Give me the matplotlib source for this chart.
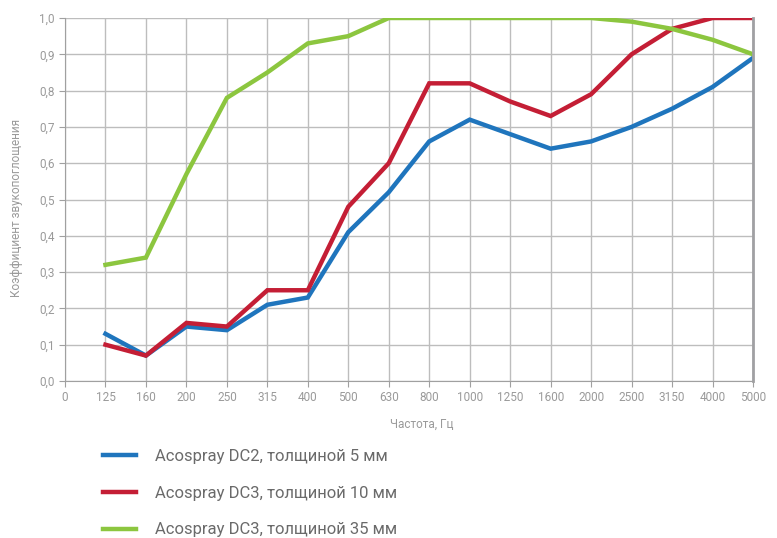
import numpy as np
import matplotlib.pyplot as plt

plt.rcParams['font.family'] = ['Roboto', 'DejaVu Sans']

freqs = ['0', '125', '160', '200', '250', '315', '400', '500', '630', '800',
         '1000', '1250', '1600', '2000', '2500', '3150', '4000', '5000']
dc2_5 = [0.13, 0.07, 0.15, 0.14, 0.21, 0.23, 0.41, 0.52, 0.66, 0.72,
         0.68, 0.64, 0.66, 0.70, 0.75, 0.81, 0.89]
dc3_10 = [0.10, 0.07, 0.16, 0.15, 0.25, 0.25, 0.48, 0.60, 0.82, 0.82,
          0.77, 0.73, 0.79, 0.90, 0.97, 1.00, 1.00]
dc3_35 = [0.32, 0.34, 0.57, 0.78, 0.85, 0.93, 0.95, 1.00, 1.00, 1.00,
          1.00, 1.00, 1.00, 0.99, 0.97, 0.94, 0.90]
labels = ['Acospray DC2, толщиной 5 мм',
          'Acospray DC3, толщиной 10 мм',
          'Acospray DC3, толщиной 35 мм']
colors = ['#1f75bd', '#c41e35', '#8cc63f']

fig = plt.figure(figsize=(7.77, 5.38), dpi=100)
ax = fig.add_axes([65/777, 1 - 381/538, 688/777, 363/538])

x = np.arange(1, len(freqs))
for y, c, lab in zip([dc2_5, dc3_10, dc3_35], colors, labels):
    ax.plot(x, y, color=c, lw=3.2, label=lab, solid_joinstyle='miter')

ax.set_xlim(0, len(freqs) - 1)
ax.set_ylim(0, 1.0)
ax.set_xticks(np.arange(len(freqs)))
ax.set_xticklabels(freqs)
yt = np.round(np.arange(0, 1.01, 0.1), 1)
ax.set_yticks(yt)
ax.set_yticklabels([f'{v:.1f}'.replace('.', ',') for v in yt])
ax.grid(True, color='#bdbdbd', lw=1)
ax.set_axisbelow(True)
ax.spines['top'].set_visible(False)
ax.spines['left'].set_color('#a0a0a0')
ax.spines['bottom'].set_color('#a0a0a0')
ax.spines['right'].set_color('#a0a0a3')
ax.spines['right'].set_linewidth(2)
ax.tick_params(colors='#a0a0a0', labelcolor='#9a9a9a', labelsize=8.5, length=4)
ax.set_xlabel('Частота, Гц', color='#9a9a9a', fontsize=8.5)
ax.set_ylabel('Коэффициент звукопоглощения', color='#9a9a9a', fontsize=8.5)
ax.xaxis.set_label_coords((422 - 65) / 688, -37 / 363)
ax.yaxis.set_label_coords(-42 / 688, (381 - 208) / 363)

fig.legend(loc='upper left', bbox_to_anchor=(88/777, 1 - 434/538), frameon=False,
           fontsize=12, labelspacing=1.3, handlelength=2.0, handletextpad=1.1,
           labelcolor='#6a6a6a')

fig.savefig('out.png', dpi=100)
